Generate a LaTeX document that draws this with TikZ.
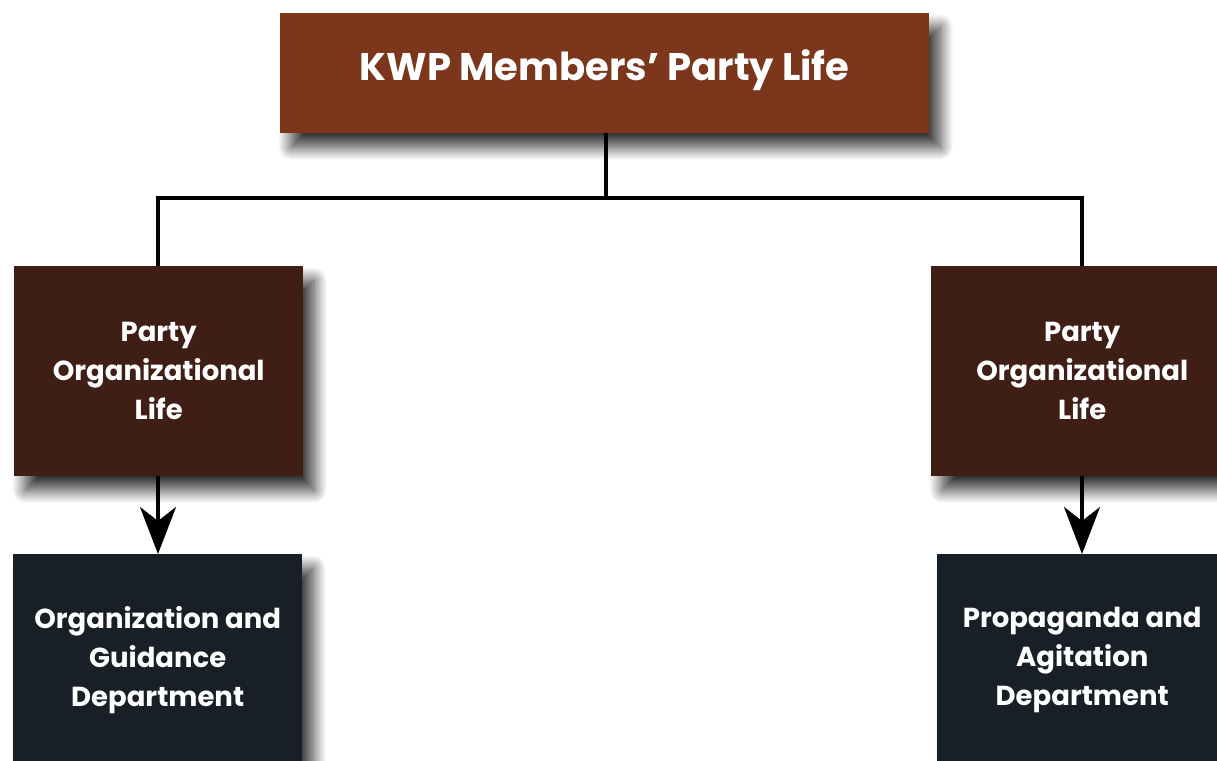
\documentclass[tikz,border=0pt]{standalone}
\usepackage{fontspec}
\setmainfont{Poppins}
\usetikzlibrary{arrows.meta,shadows.blur}
\definecolor{topbrown}{HTML}{7B361C}
\definecolor{midbrown}{HTML}{3F1E15}
\definecolor{navy}{HTML}{181F26}
\begin{document}
\begin{tikzpicture}[x=1pt,y=-1pt,
  box/.style={anchor=north west,inner sep=0pt,align=center,text=white,font=\bfseries,
    blur shadow={shadow xshift=11pt,shadow yshift=-14pt,shadow blur steps=20,shadow blur radius=13pt,shadow opacity=80}},
  topbox/.style={box,fill=topbrown,minimum width=649pt,minimum height=120pt,text height=28pt,text depth=14pt,font=\fontsize{38.5}{46}\selectfont\bfseries},
  midbox/.style={box,fill=midbrown,minimum width=289pt,minimum height=210pt,font=\fontsize{27.5}{39}\selectfont\bfseries},
  botbox/.style={box,fill=navy,minimum width=289pt,minimum height=206pt,font=\fontsize{27.5}{39}\selectfont\bfseries},
  conn/.style={line width=3.5pt,black},
  arr/.style={conn,-{Stealth[length=47pt,width=36pt,inset=14pt]}}]
\useasboundingbox (0,0) rectangle (1217,760);
\node[topbox] (top) at (280,13) {KWP Members’ Party Life};
\node[midbox] (ml) at (14,266) {Party\\Organizational\\Life};
\node[midbox,minimum width=302pt] (mr) at (931,266) {Party\\Organizational\\Life};
\node[botbox,minimum height=212pt] (bl) at (13,554) {Organization and\\Guidance\\Department};
\node[botbox,minimum width=290pt,minimum height=212pt] (br) at (937,554) {Propaganda and\\Agitation\\Department};
\coordinate (j) at (606,198);
\draw[conn] (top.south -| j) -- (j);
\draw[conn,line cap=rect] (158,198) -- (1082,198);
\draw[conn] (158,198) -- (158,266);
\draw[conn] (1082,198) -- (1082,266);
\draw[arr] (ml.south -| 158,0) -- (bl.north -| 158,0);
\draw[arr] (mr.south -| 1082,0) -- (br.north -| 1082,0);
\end{tikzpicture}
\end{document}
